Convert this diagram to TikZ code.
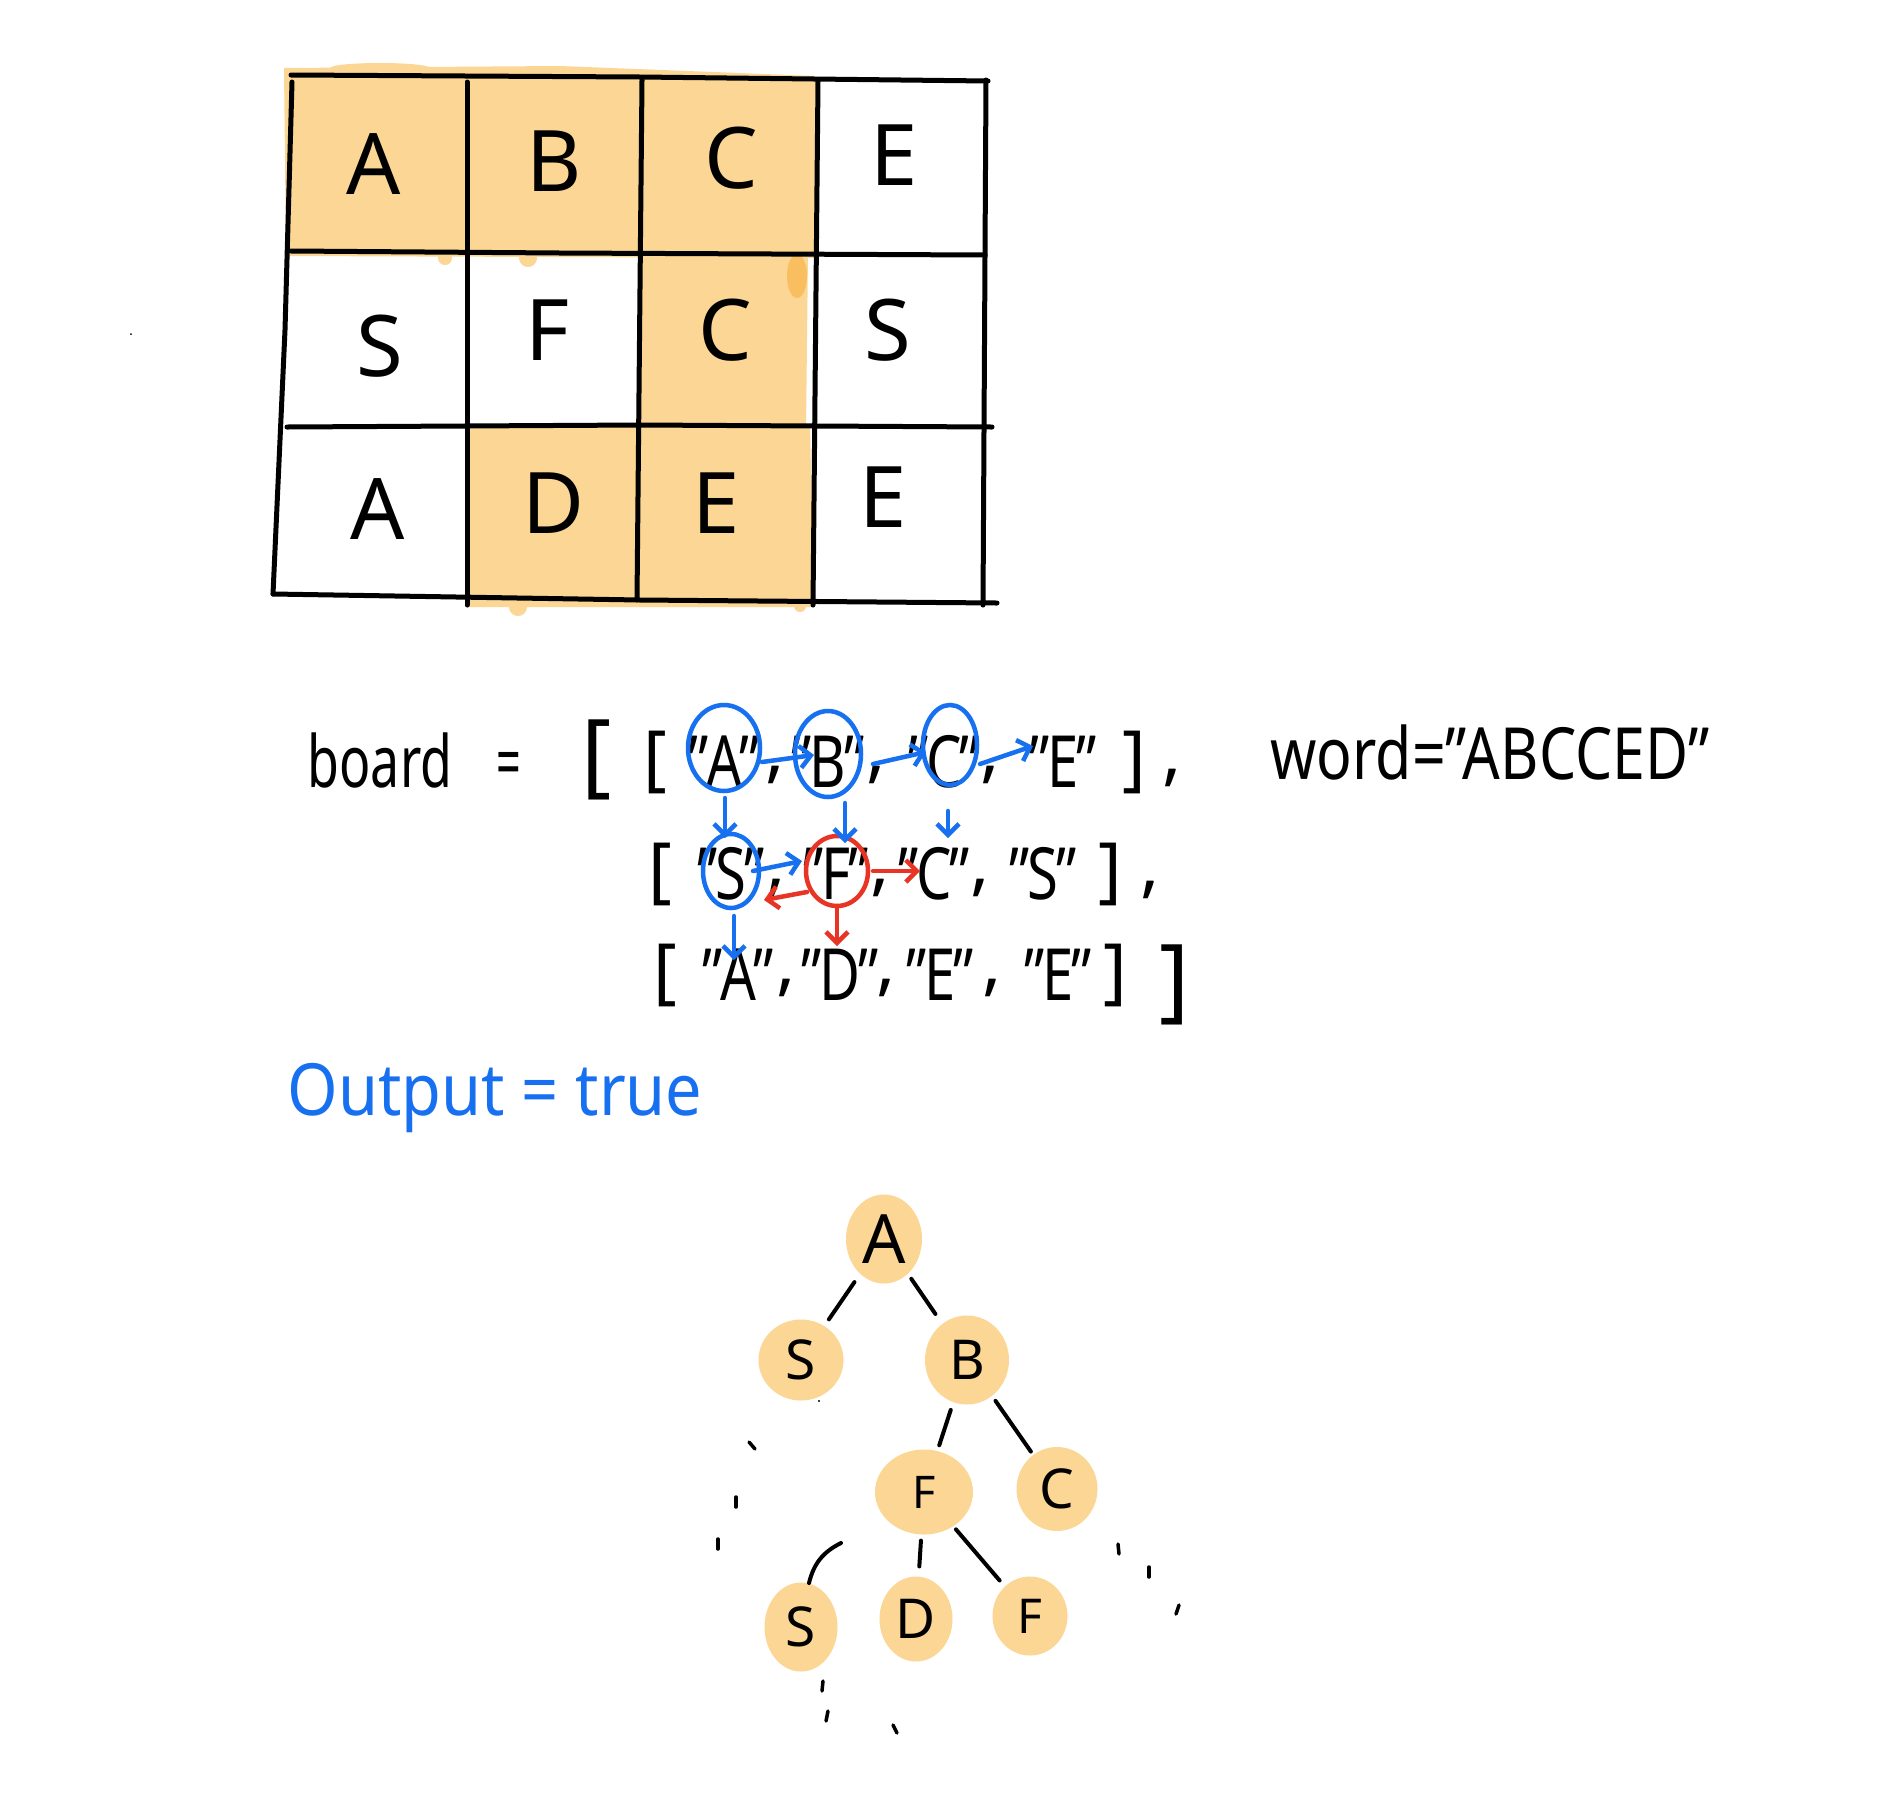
\documentclass[tikz,border=0pt]{standalone}
\usepackage{fontspec}
\usepackage{graphicx}
\setmainfont{Noto Sans}
\usetikzlibrary{arrows.meta,shapes.geometric,calc}
\definecolor{hl}{RGB}{252,214,148}
\definecolor{hldark}{RGB}{249,190,95}
\definecolor{pblue}{RGB}{22,112,240}
\definecolor{pred}{RGB}{232,52,36}
\newcommand\narrowtxt[1]{\scalebox{0.78}[1]{#1}}
\newcommand\qq[1]{\narrowtxt{"\kern-0.04em#1\kern-0.04em"}}
\tikzset{
  gridline/.style={line width=5pt,line cap=round,line join=round},
  glet/.style={font=\fontsize{85}{90}\selectfont,inner sep=0pt},
  btxt/.style={font=\fontsize{72}{80}\selectfont,inner sep=0pt,anchor=center},
  bbig/.style={font=\fontsize{92}{96}\selectfont,inner sep=0pt,anchor=center},
  bell/.style={draw=pblue,line width=4.5pt,ellipse,inner sep=0pt},
  rell/.style={draw=pred,line width=4.5pt,ellipse,inner sep=0pt},
  barr/.style={draw=pblue,line width=4.5pt,line cap=round,-{Straight Barb[length=11pt,width=22pt]}},
  rarr/.style={draw=pred,line width=4.5pt,line cap=round,-{Straight Barb[length=11pt,width=22pt]}},
  tnode/.style={ellipse,fill=hl,inner sep=0pt,font=\fontsize{55}{60}\selectfont},
  tedge/.style={line width=4pt,line cap=round},
  tick/.style={line width=3.5pt,line cap=round},
}
\begin{document}
\begin{tikzpicture}[x=1pt,y=-1pt]
\useasboundingbox (0,0) rectangle (1902,1794);
\fill[white] (0,0) rectangle (1902,1794);

% ---------- highlighted cells
\fill[hl] (284,68) -- (560,66) -- (815,76) -- (818,258) -- (286,256) -- cycle;
\fill[hl] (380,68) ellipse (50 and 5);
\fill[hl] (445,258) circle (7);
\fill[hl] (528,258) circle (9);
\fill[hl] (640,250) -- (808,252) -- (806,430) -- (640,430) -- cycle;
\fill[hldark] (797,276) ellipse (10 and 22);
\fill[hl] (467,425) -- (810,425) -- (814,607) -- (467,607) -- cycle;
\fill[hl] (518,607) circle (9);
\fill[hl] (800,606) circle (6);

% ---------- grid lines
\draw[gridline] (291,75) -- (640,77) -- (988,81);
\draw[gridline] (291,251) -- (560,253) -- (985,255);
\draw[gridline] (287,427) -- (640,425) -- (992,427);
\draw[gridline] (273,594) -- (640,600) -- (997,603);
\draw[gridline] (292,82) -- (285,330) -- (273,594);
\draw[gridline] (467,82) -- (467,605);
\draw[gridline] (642,80) -- (637,600);
\draw[gridline] (818,80) -- (813,605);
\draw[gridline] (986,80) -- (983,605);

% ---------- grid letters
\node[glet] (g00) at (374,164) {A};
\node[glet] (g01) at (554,161) {B};
\node[glet] (g02) at (731,158) {C};
\node[glet] (g03) at (894,155) {E};
\node[glet] (g10) at (380,346) {S};
\node[glet] (g11) at (548,330) {F};
\node[glet] (g12) at (725,330) {C};
\node[glet] (g13) at (888,330) {S};
\node[glet] (g20) at (378,509) {A};
\node[glet] (g21) at (554,503) {D};
\node[glet] (g22) at (716,503) {E};
\node[glet] (g23) at (883,497) {E};

\fill (131,334) circle (1);

% ---------- board text
\node[btxt] (board) at (380,760) {\scalebox{0.72}[1]{board}};
\node[btxt] (eq) at (509,770) {\scalebox{0.6}[1]{=}};
\node[bbig] (lb0) at (597,760) {[};

\node[btxt] (r1l) at (655,762) {[};
\node[btxt] (r1a) at (724,762) {\qq{A}};
\node[btxt] (c11) at (775,775) {,};
\node[btxt] (r1b) at (828,762) {\qq{B}};
\node[btxt] (c12) at (876,775) {,};
\node[btxt] (r1c) at (944,762) {\qq{C}};
\node[btxt] (c13) at (990,775) {,};
\node[btxt] (r1e) at (1063,762) {\qq{E}};
\node[btxt] (r1r) at (1134,762) {]};
\node[btxt] (c14) at (1172,778) {,};

\node[btxt] (r2l) at (660,874) {[};
\node[btxt] (r2s) at (731,874) {\qq{S}};
\node[btxt] (c21) at (776,888) {,};
\node[btxt] (r2f) at (836,874) {\qq{F}};
\node[btxt] (c22) at (880,888) {,};
\node[btxt] (r2c) at (934,874) {\qq{C}};
\node[btxt] (c23) at (980,888) {,};
\node[btxt] (r2s2) at (1043,874) {\qq{S}};
\node[btxt] (r2r) at (1110,874) {]};
\node[btxt] (c24) at (1150,890) {,};

\node[btxt] (r3l) at (665,975) {[};
\node[btxt] (r3a) at (738,975) {\qq{A}};
\node[btxt] (c31) at (786,988) {,};
\node[btxt] (r3d) at (840,975) {\qq{D}};
\node[btxt] (c32) at (886,988) {,};
\node[btxt] (r3e) at (940,975) {\qq{E}};
\node[btxt] (c33) at (992,988) {,};
\node[btxt] (r3e2) at (1058,975) {\qq{E}};
\node[btxt] (r3r) at (1115,975) {]};
\node[bbig] (lb1) at (1175,985) {]};

\node[btxt] (word) at (1490,752) {\scalebox{0.82}[1]{word="ABCCED"}};

% ---------- blue / red marks
\node[bell,minimum width=72pt,minimum height=86pt] (eA) at (724,748) {};
\node[bell,minimum width=66pt,minimum height=86pt] (eB) at (828,754) {};
\node[bell,minimum width=54pt,minimum height=80pt] (eC) at (950,745) {};
\node[bell,minimum width=56pt,minimum height=74pt] (eS) at (731,871) {};
\node[rell,minimum width=62pt,minimum height=70pt] (eF) at (837,871) {};

\draw[barr] ($(eA)+(38,14)$) -- ($(eB)+(-14,1)$);
\draw[barr] ($(eB)+(45,10)$) -- ($(eC)+(-24,7)$);
\draw[barr] ($(eC)+(30,19)$) -- ($(r1e)+(-30,-16)$);
\draw[barr] ($(eA)+(1,50)$) -- ($(eS)+(-6,-33)$);
\draw[barr] ($(eB)+(17,49)$) -- ($(eF)+(8,-28)$);
\draw[barr] ($(eC)+(-2,66)$) -- ($(r2c)+(14,-36)$);
\draw[barr] ($(eS)+(22,0)$) -- ($(eF)+(-35,-10)$);
\draw[barr] ($(eS)+(3,45)$) -- ($(r3a)+(-4,-15)$);
\draw[rarr] ($(eF)+(36,0)$) -- ($(r2c)+(-14,-3)$);
\draw[rarr] ($(eF)+(-30,21)$) -- ($(eS)+(33,29)$);
\draw[rarr] ($(eF)+(0,35)$) -- ($(r3d)+(-3,-29)$);

% ---------- output
\node[btxt,text=pblue] (out) at (495,1098) {\scalebox{0.9}[1]{Output = true}};

% ---------- tree
\node[tnode,minimum width=76pt,minimum height=89pt,font=\fontsize{68}{70}\selectfont] (tA) at (884,1239) {A};
\node[tnode,minimum width=85pt,minimum height=81pt] (tS) at (801,1360) {S};
\node[tnode,minimum width=84pt,minimum height=89pt] (tB) at (967,1360) {B};
\node[tnode,minimum width=98pt,minimum height=85pt,font=\fontsize{45}{50}\selectfont] (tF) at (924,1492) {F};
\node[tnode,minimum width=81pt,minimum height=84pt] (tC) at (1057,1489) {C};
\node[tnode,minimum width=73pt,minimum height=89pt] (tS2) at (801,1627) {S};
\node[tnode,minimum width=73pt,minimum height=85pt] (tD) at (916,1619) {D};
\node[tnode,minimum width=75pt,minimum height=79pt,font=\fontsize{48}{50}\selectfont] (tF2) at (1030,1616) {F};

\draw[tedge,shorten <=10pt,shorten >=8pt] (tA) -- (tS);
\draw[tedge,shorten <=6pt,shorten >=12pt] (tA) -- (tB);
\draw[tedge,shorten <=8pt,shorten >=6pt] (tB) -- (tF);
\draw[tedge,shorten <=6pt,shorten >=4pt] (tB) -- (tC);
\draw[tedge] ($(tF)+(-83,51)$) to[bend right=25] ($(tS2)+(8,-44)$);
\draw[tedge,shorten <=6pt,shorten >=10pt] (tF) -- (tD);
\draw[tedge,shorten <=4pt,shorten >=8pt] (tF) -- (tF2);

% stray ticks
\draw[tick] (749,1442) -- (755,1449);
\draw[tick] (736,1497) -- (736,1507);
\draw[tick] (718,1539) -- (718,1549);
\draw[tick] (1118,1544) -- (1119,1554);
\draw[tick] (1149,1567) -- (1149,1577);
\draw[tick] (1179,1605) -- (1176,1614);
\draw[tick] (823,1681) -- (822,1691);
\draw[tick] (828,1711) -- (826,1721);
\draw[tick] (893,1725) -- (897,1733);
\fill (819,1401) circle (1.2);
\end{tikzpicture}
\end{document}
